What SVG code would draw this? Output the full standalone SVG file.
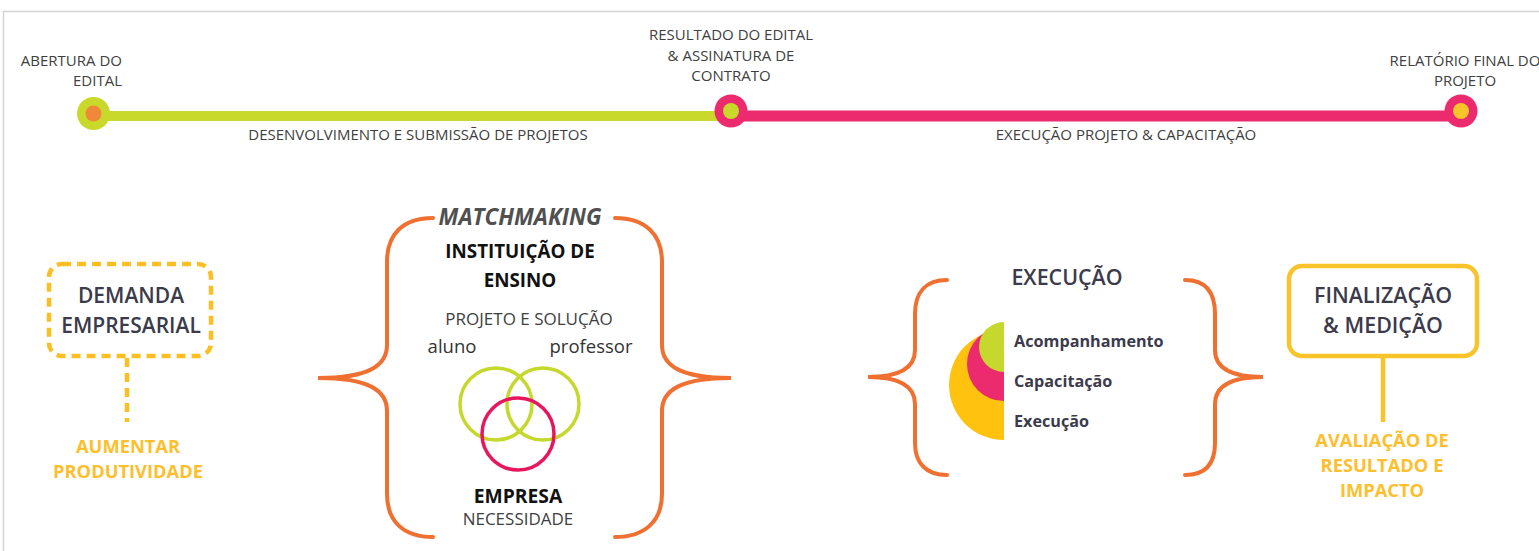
<svg xmlns="http://www.w3.org/2000/svg" width="1539" height="551" viewBox="0 0 1539 551">
<style>
text{font-family:"Open Sans","Noto Sans","Liberation Sans",sans-serif}
.tl{font-size:15px;fill:#404040}
.hd{font-size:21px;font-weight:600;fill:#3b3b4b}
.yl{font-size:18.3px;font-weight:700;fill:#fdbf2d}
.brace{fill:none;stroke:#f07031;stroke-width:4;stroke-linecap:round}
.b{font-weight:700;fill:#111}
.rg{fill:#404040}
.ex{font-size:16.2px;font-weight:700;fill:#3b3b4b}
</style>
<rect width="1539" height="551" fill="#fff"/>
<path d="M3.5,551 V11.5 H1539" fill="none" stroke="#d4d4d4" stroke-width="1.5"/>
<g id="connectors">
<line x1="93" y1="116" x2="731" y2="116" stroke="#c8d92b" stroke-width="10"/>
<line x1="731" y1="116" x2="1461" y2="116" stroke="#ec2a6e" stroke-width="11"/>
<line x1="127" y1="358" x2="127" y2="422" stroke="#fbbf24" stroke-width="4.5" stroke-dasharray="9,6"/>
<line x1="1383" y1="357" x2="1383" y2="422" stroke="#f9c42a" stroke-width="4.5"/>
</g>
<g id="timeline">
<g id="n-abertura">
<circle cx="93.5" cy="113.5" r="16.5" fill="#c8d92b"/>
<circle cx="93.5" cy="113.5" r="8" fill="#f0883a"/>
<text class="tl" text-anchor="end" x="122" y="66">ABERTURA DO</text>
<text class="tl" text-anchor="end" x="122" y="86">EDITAL</text>
</g>
<g id="n-resultado">
<circle cx="731" cy="111" r="16.5" fill="#ec2a6e"/>
<circle cx="731" cy="111" r="8" fill="#c8d92b"/>
<text class="tl" text-anchor="middle" x="731" y="40">RESULTADO DO EDITAL</text>
<text class="tl" text-anchor="middle" x="731" y="61">&amp; ASSINATURA DE</text>
<text class="tl" text-anchor="middle" x="731" y="81">CONTRATO</text>
</g>
<g id="n-relatorio">
<circle cx="1461" cy="111" r="16.5" fill="#ec2a6e"/>
<circle cx="1461" cy="111" r="8" fill="#f7c52a"/>
<text class="tl" text-anchor="middle" x="1465" y="66">RELATÓRIO FINAL DO</text>
<text class="tl" text-anchor="middle" x="1465" y="86">PROJETO</text>
</g>
<text class="tl" text-anchor="middle" x="418" y="140">DESENVOLVIMENTO E SUBMISSÃO DE PROJETOS</text>
<text class="tl" text-anchor="middle" x="1126" y="140">EXECUÇÃO PROJETO &amp; CAPACITAÇÃO</text>
</g>
<g id="demanda">
<rect x="49" y="264" width="162" height="92" rx="13" fill="none" stroke="#fbbf24" stroke-width="4.5" stroke-dasharray="9,6"/>
<text class="hd" text-anchor="middle" x="131" y="303">DEMANDA</text>
<text class="hd" text-anchor="middle" x="131" y="333">EMPRESARIAL</text>
</g>
<g id="aumentar">
<text class="yl" text-anchor="middle" x="128" y="453">AUMENTAR</text>
<text class="yl" text-anchor="middle" x="128" y="478">PRODUTIVIDADE</text>
</g>
<g id="matchmaking">
<path class="brace" d="M433,218 C403,218 387,234 387,262 L387,345 C387,366 368,378 318,378 C368,378 387,390 387,411 L387,494 C387,521 403,537 433,537"/>
<path class="brace" d="M615,218 C645,218 662,234 662,262 L662,345 C662,366 681,378 731,378 C681,378 662,390 662,411 L662,494 C662,521 645,537 615,537"/>
<text x="520" y="225" text-anchor="middle" style="font-size:22.5px;font-weight:700;font-style:italic;fill:#505050">MATCHMAKING</text>
<text class="b" x="520" y="258" text-anchor="middle" style="font-size:18.8px">INSTITUIÇÃO DE</text>
<text class="b" x="520" y="287" text-anchor="middle" style="font-size:18.8px">ENSINO</text>
<text class="rg" x="529" y="325" text-anchor="middle" style="font-size:17px">PROJETO E SOLUÇÃO</text>
<text x="452" y="353" text-anchor="middle" style="font-size:18.5px;fill:#333">aluno</text>
<text x="591" y="353" text-anchor="middle" style="font-size:18.5px;fill:#333">professor</text>
<circle cx="496" cy="404" r="36" fill="none" stroke="#c5d92d" stroke-width="3.5"/>
<circle cx="543" cy="404" r="36" fill="none" stroke="#c5d92d" stroke-width="3.5"/>
<circle cx="518" cy="434" r="36" fill="none" stroke="#e8175d" stroke-width="3.5"/>
<text class="b" x="518" y="503" text-anchor="middle" style="font-size:19.3px">EMPRESA</text>
<text class="rg" x="518" y="525" text-anchor="middle" style="font-size:17px">NECESSIDADE</text>
</g>
<g id="execucao">
<path class="brace" d="M947,280 C926,280 915,292 915,314 L915,350 C915,368 900,377 868,377 C900,377 915,386 915,404 L915,443 C915,463 926,475 947,475"/>
<path class="brace" d="M1185,280 C1206,280 1215,292 1215,314 L1215,350 C1215,368 1231,377 1263,377 C1231,377 1215,386 1215,404 L1215,443 C1215,463 1206,475 1185,475"/>
<text class="hd" text-anchor="middle" x="1067" y="285" style="font-size:21.4px">EXECUÇÃO</text>
<path d="M1004,330 A55,55 0 0 0 1004,440 Z" fill="#ffc20e"/>
<path d="M1004,327 A37,37 0 0 0 1004,401 Z" fill="#ec2a6e"/>
<path d="M1004,322 A25,25 0 0 0 1004,372 Z" fill="#c6d82e"/>
<text class="ex" x="1014" y="347">Acompanhamento</text>
<text class="ex" x="1014" y="387">Capacitação</text>
<text class="ex" x="1014" y="427">Execução</text>
</g>
<g id="finalizacao">
<rect x="1289" y="266" width="188" height="90" rx="13" fill="none" stroke="#f9c42a" stroke-width="4.5"/>
<text class="hd" text-anchor="middle" x="1383" y="303" style="font-size:21.4px">FINALIZAÇÃO</text>
<text class="hd" text-anchor="middle" x="1383" y="333" style="font-size:21.4px">&amp; MEDIÇÃO</text>
</g>
<g id="avaliacao">
<text class="yl" text-anchor="middle" x="1382" y="447">AVALIAÇÃO DE</text>
<text class="yl" text-anchor="middle" x="1382" y="472">RESULTADO E</text>
<text class="yl" text-anchor="middle" x="1382" y="497">IMPACTO</text>
</g>
</svg>
